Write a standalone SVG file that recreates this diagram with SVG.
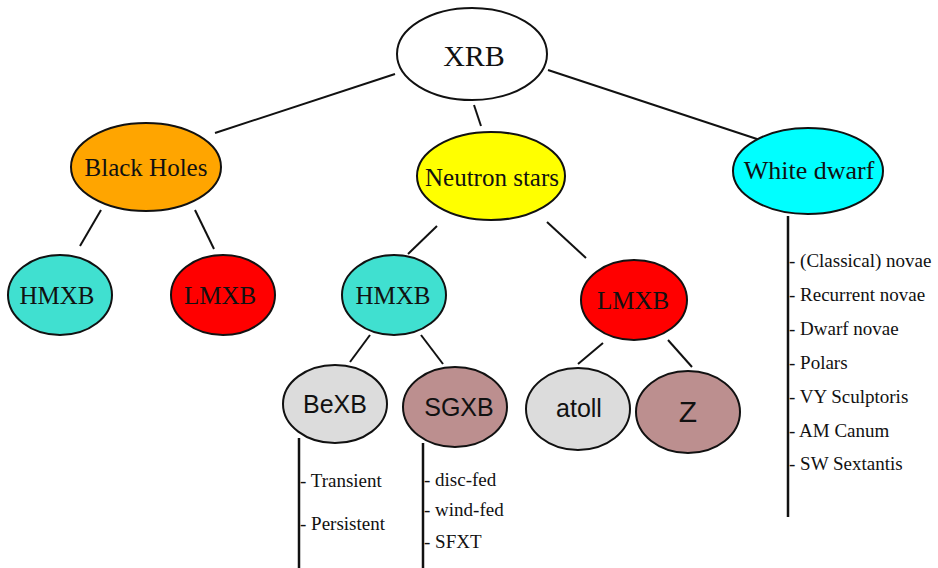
<svg xmlns="http://www.w3.org/2000/svg" width="938" height="568" viewBox="0 0 938 568">
<style>
.n{stroke:#111;stroke-width:2}
.serif{font-family:"Liberation Serif","Times New Roman",serif;fill:#111;text-anchor:middle}
.sans{font-family:"Liberation Sans",Arial,sans-serif;fill:#111;text-anchor:middle}
.item{font-family:"Liberation Serif","Times New Roman",serif;fill:#111;font-size:19px}
.c line{stroke:#111;stroke-width:2;fill:none}
.c .v{stroke-width:2.5}
</style>
<rect width="938" height="568" fill="#fff"/>
<g class="c" id="connectors">
<line x1="395" y1="74" x2="215" y2="133"/>
<line x1="474" y1="105" x2="481" y2="126"/>
<line x1="548" y1="70" x2="760" y2="140"/>
<line x1="101" y1="210" x2="80" y2="246"/>
<line x1="195" y1="210" x2="214" y2="249"/>
<line x1="437" y1="226" x2="408" y2="254"/>
<line x1="547" y1="222" x2="586" y2="258"/>
<line x1="370" y1="335" x2="350" y2="362"/>
<line x1="421" y1="335" x2="443" y2="364"/>
<line x1="603" y1="343" x2="578" y2="364"/>
<line x1="668" y1="340" x2="692" y2="367"/>
<line class="v" x1="299" y1="438" x2="299" y2="568"/>
<line class="v" x1="423" y1="443" x2="423" y2="568"/>
<line class="v" x1="788" y1="216" x2="788" y2="517"/>
</g>
<g id="xrb"><ellipse class="n" cx="472" cy="54" rx="75" ry="46" fill="#fff"/><text class="serif" x="474" y="66" font-size="30">XRB</text></g>
<g id="bh"><ellipse class="n" cx="146" cy="167" rx="75" ry="44" fill="#FFA500"/><text class="serif" x="146" y="176" font-size="25">Black Holes</text></g>
<g id="ns"><ellipse class="n" cx="491" cy="176" rx="74" ry="44" fill="#FFFF00"/><text class="serif" x="492" y="186" font-size="25">Neutron stars</text></g>
<g id="wd"><ellipse class="n" cx="808" cy="171" rx="75" ry="43" fill="#00FFFF"/><text class="serif" x="809" y="179" font-size="26">White dwarf</text></g>
<g id="bh-hmxb"><ellipse class="n" cx="60" cy="295" rx="52" ry="40" fill="#40E0D0"/><text class="serif" x="57" y="304" font-size="25">HMXB</text></g>
<g id="bh-lmxb"><ellipse class="n" cx="223" cy="295" rx="52" ry="40" fill="#FF0000"/><text class="serif" x="220" y="304" font-size="25">LMXB</text></g>
<g id="ns-hmxb"><ellipse class="n" cx="394" cy="295" rx="52" ry="40" fill="#40E0D0"/><text class="serif" x="393" y="304" font-size="25">HMXB</text></g>
<g id="ns-lmxb"><ellipse class="n" cx="634" cy="300" rx="53" ry="40" fill="#FF0000"/><text class="serif" x="633" y="309" font-size="25">LMXB</text></g>
<g id="bexb"><ellipse class="n" cx="335" cy="404" rx="52" ry="39" fill="#DCDCDC"/><text class="sans" x="335" y="413" font-size="25">BeXB</text></g>
<g id="sgxb"><ellipse class="n" cx="455" cy="407" rx="52" ry="40" fill="#BC8F8F"/><text class="sans" x="459" y="416" font-size="25">SGXB</text></g>
<g id="atoll"><ellipse class="n" cx="578" cy="409" rx="52" ry="41" fill="#DCDCDC"/><text class="sans" x="579" y="417" font-size="25">atoll</text></g>
<g id="z"><ellipse class="n" cx="688" cy="412" rx="52" ry="41" fill="#BC8F8F"/><text class="sans" x="688" y="422" font-size="30">Z</text></g>
<g id="bexb-list">
<text class="item" x="300" y="487">- Transient</text>
<text class="item" x="300" y="530">- Persistent</text>
</g>
<g id="sgxb-list">
<text class="item" x="424" y="486">- disc-fed</text>
<text class="item" x="424" y="516">- wind-fed</text>
<text class="item" x="424" y="548">- SFXT</text>
</g>
<g id="wd-list">
<text class="item" x="789" y="267">- (Classical) novae</text>
<text class="item" x="789" y="301">- Recurrent novae</text>
<text class="item" x="789" y="335">- Dwarf novae</text>
<text class="item" x="789" y="369">- Polars</text>
<text class="item" x="789" y="403">- VY Sculptoris</text>
<text class="item" x="789" y="437">- AM Canum</text>
<text class="item" x="789" y="470">- SW Sextantis</text>
</g>
</svg>
